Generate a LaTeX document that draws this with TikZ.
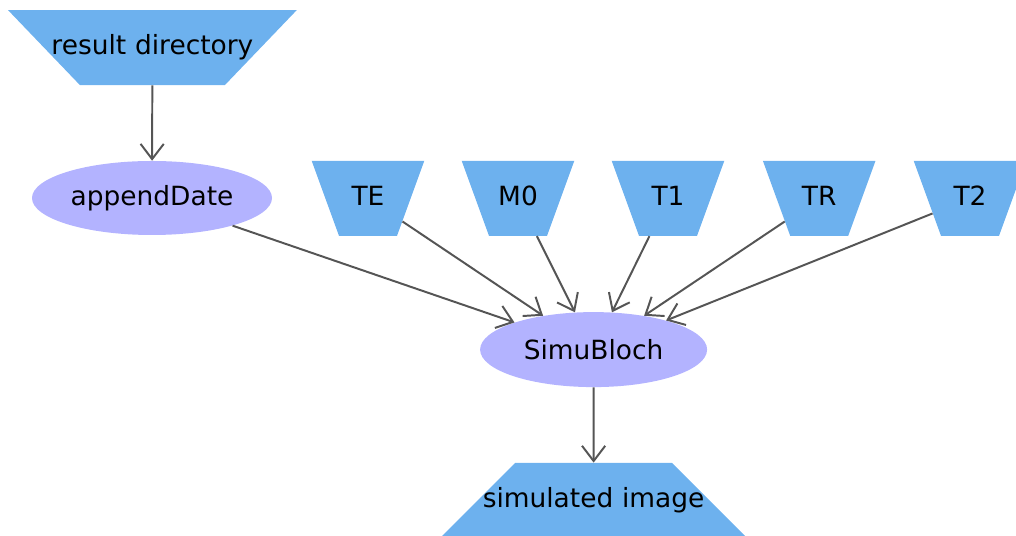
\documentclass[tikz,border=0pt]{standalone}
\usepackage{fontspec}
\setmainfont{DejaVu Sans}
\usepackage{tikz}
\usetikzlibrary{shapes.geometric,arrows.meta}
\definecolor{portblue}{HTML}{6DB1EE}
\definecolor{procviolet}{HTML}{B3B3FF}
\definecolor{edgegray}{HTML}{555555}

\begin{document}
\begin{tikzpicture}[
    port/.style={trapezium, shape border rotate=180, fill=portblue, draw=none, inner sep=0pt, minimum size=0pt, trapezium angle=70, text width=1.45cm, align=center, text height=31.8pt, text depth=21.5pt, font=\fontsize{18.8}{20}\selectfont},
    wideport/.style={port, trapezium angle=46.2, text width=3.625cm},
    proc/.style={ellipse, fill=procviolet, draw=none, inner sep=0pt, minimum width=6cm, minimum height=1.85cm, font=\fontsize{18.8}{20}\selectfont},
    arrow/.style={-{Straight Barb[length=3.8mm,width=5.8mm]}, draw=edgegray, line width=1.4pt}
]
    \useasboundingbox (0,0) rectangle (25.4,13.4);

    \node[wideport] (resdir) at (3.81,12.21) {\makebox[3.625cm]{result directory}};
    \node[proc] (append) at (3.8,8.45) {appendDate};

    \node[port] (te) at (9.2,8.44) {TE};
    \node[port] (mzero) at (12.95,8.44) {M0};
    \node[port] (tone) at (16.7,8.44) {T1};
    \node[port] (tr) at (20.48,8.44) {TR};
    \node[port] (ttwo) at (24.25,8.44) {T2};

    \node[proc, minimum width=5.675cm, minimum height=1.875cm] (simu) at (14.84,4.66) {SimuBloch};
    \node[wideport, shape border rotate=0, trapezium angle=45, text width=3.925cm] (image) at (14.84,0.89) {\makebox[3.925cm]{simulated image}};

    \draw[arrow] (resdir) -- (append);
    \draw[arrow] (append) -- (simu);
    \draw[arrow] (te) -- (simu);
    \draw[arrow] (mzero) -- (simu);
    \draw[arrow] (tone) -- (simu);
    \draw[arrow] (tr) -- (simu);
    \draw[arrow] (ttwo) -- (simu);
    \draw[arrow] (simu) -- (image);
\end{tikzpicture}
\end{document}
